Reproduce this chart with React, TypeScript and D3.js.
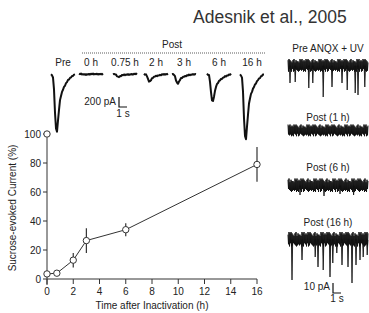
import React from "react";
import * as d3 from "d3";

// ---- Time course data ----
const hours = [0, 0.75, 2, 3, 6, 16];
const currentPct = [3.5, 4, 13, 26.5, 34, 79];
const currentErr = [0, 0, 5, 8.5, 4.5, 12];
const preHour = 0;
const prePct = 100;
const xTicks = [0, 2, 4, 6, 8, 10, 12, 14, 16];
const yTicks = [0, 20, 40, 60, 80, 100];

// ---- Example sucrose-evoked traces ----
const evokedLabels = ["Pre", "0 h", "0.75 h", "2 h", "3 h", "6 h", "16 h"];
const evokedAmpPA = [1220, 10, 60, 160, 200, 580, 1380];
// normalized waveform (time s, fraction of peak)
const kernelT = [0, 0.25, 0.4, 0.55, 0.7, 0.8, 0.95, 1.1, 1.3, 1.6, 1.9, 2.2, 2.6, 3.0];
const kernelV = [0, 0.05, 0.3, 0.8, 1.0, 0.88, 0.65, 0.45, 0.32, 0.22, 0.15, 0.09, 0.04, 0];
const lineJitter = [0.4, -0.3, 0.6, -0.5, 0.2, -0.6, 0.5, -0.2, 0.3, -0.4, 0.6, -0.1];

// ---- Miniature EPSC traces ----
const mLabels = ["Pre ANQX + UV", "Post (1 h)", "Post (6 h)", "Post (16 h)"];
const mNoisePA = [7, 6.5, 7.5, 8];
const mSpikeTimes = [
  [0.25, 0.9, 2.6, 3.1, 4.4, 5.5, 6.75, 7.4, 8.4, 8.75, 9.6],
  [],
  [1.5, 4.5, 6.5, 8.2],
  [0.5, 1.75, 3.4, 3.75, 4.4, 5.25, 5.6, 6.1, 6.75, 7.5, 8.0, 8.5, 9.0, 9.4, 9.9],
];
const mSpikeAmps = [
  [17, 16, 22, 17, 31, 21, 17, 24, 27, 29, 21],
  [],
  [9, 10, 8, 9],
  [40, 20, 17, 27, 30, 37, 23, 13, 25, 27, 43, 25, 20, 17, 15],
];
const bandUp = [5, 4, 6, 3, 5, 6, 4, 5, 3, 6, 5, 4, 6, 5, 3, 4, 5, 6, 4];
const bandLow = [4, 6, 5, 3, 6, 4, 5, 6, 4, 3, 5, 6, 4, 5, 6, 3, 5];

const FONT = "'Liberation Sans', Arial, Helvetica, sans-serif";
const TXT = "#222";

export default function App() {
  // main plot scales
  const x = d3.scaleLinear().domain([0, 16]).range([47, 257]);
  const y = d3.scaleLinear().domain([0, 100]).range([279, 134]);
  const line = d3
    .line<number>()
    .x((_, i) => x(hours[i]))
    .y((d) => y(d));

  // evoked traces
  const labelCenters = [63, 91, 125, 156, 184, 219, 252];
  const evBase = 74;
  const evTime = d3.scaleLinear().domain([0, 3]).range([0, 24]);
  const pA = d3.scaleLinear().domain([0, 200]).range([0, 10]);
  const kernel = d3.scaleLinear().domain(kernelT).range(kernelV).clamp(true);
  const evPaths = evokedAmpPA.map((amp, k) => {
    const x0 = labelCenters[k] - 12;
    const pts: [number, number][] = d3.range(0, 3.0001, 0.125).map((t, i) => [
      x0 + evTime(t),
      evBase + pA(amp) * kernel(t) + lineJitter[(i + k * 3) % lineJitter.length] * 0.8,
    ]);
    return d3.line()(pts) as string;
  });

  // mEPSC traces
  const mx = d3.scaleLinear().domain([0, 10]).range([288, 368]);
  const mpA = d3.scaleLinear().domain([0, 10]).range([0, 10]);
  const mCenters = [66, 131, 186, 240];
  const mLabelY = [52, 121, 171, 226];
  const bandPaths = mNoisePA.map((n, k) => {
    const c = mCenters[k];
    const pts: [number, number][] = d3.range(0, 10.0001, 0.0625).map((t, i) => {
      const up = (bandUp[(i + k * 5) % bandUp.length] / 6) * mpA(n);
      const lo = (bandLow[(i + k * 7) % bandLow.length] / 6) * mpA(n) * 0.8;
      return [mx(t), i % 2 === 0 ? c - up : c + lo];
    });
    return d3.line()(pts) as string;
  });

  return (
    <svg width={369} height={313} style={{ display: "block", position: "absolute", left: 0, top: 0 }} fontFamily={FONT}>
      <rect width={369} height={313} fill="#fff" />
      {/* title */}
      <text x={193} y={23} fontSize={17.5} fill="#333">Adesnik et al., 2005</text>

      {/* Post header */}
      <text x={172} y={48} fontSize={10} fill={TXT} textAnchor="middle">Post</text>
      <line x1={82} x2={265} y1={53} y2={53} stroke="#333" strokeWidth={0.8} strokeDasharray="1,1" />
      {evokedLabels.map((l, i) => (
        <text key={l} x={labelCenters[i]} y={66} fontSize={10} fill={TXT} textAnchor="middle">{l}</text>
      ))}
      {evPaths.map((p, i) => (
        <path key={i} d={p} fill="none" stroke="#111" strokeWidth={2} strokeLinejoin="round" />
      ))}
      {/* evoked scale bar */}
      <path d={`M${119},${97}V${97 + pA(200)}H${119 + evTime(1)}`} fill="none" stroke="#111" strokeWidth={1.2} />
      <text x={116} y={105} fontSize={10} fill={TXT} textAnchor="end">200 pA</text>
      <text x={123} y={117} fontSize={10} fill={TXT} textAnchor="middle">1 s</text>

      {/* main plot axes */}
      <line x1={47} x2={47} y1={y(100) + 3.2} y2={285} stroke="#333" strokeWidth={1} />
      <line x1={47} x2={257} y1={279} y2={279} stroke="#333" strokeWidth={1} />
      {yTicks.map((t) => (
        <g key={t}>
          <line x1={43} x2={47} y1={y(t)} y2={y(t)} stroke="#333" strokeWidth={1} />
          <text x={41} y={y(t) + 3.5} fontSize={10} fill={TXT} textAnchor="end">{t}</text>
        </g>
      ))}
      {xTicks.map((t) => (
        <g key={t}>
          <line x1={x(t)} x2={x(t)} y1={279} y2={284} stroke="#333" strokeWidth={1} />
          <text x={x(t)} y={295} fontSize={10} fill={TXT} textAnchor="middle">{t}</text>
        </g>
      ))}
      <text x={152} y={309} fontSize={10} fill={TXT} textAnchor="middle">Time after Inactivation (h)</text>
      <text transform={`translate(16,208) rotate(-90)`} fontSize={10} fill={TXT} textAnchor="middle">Sucrose-evoked Current (%)</text>

      {/* error bars */}
      {hours.map((h, i) =>
        currentErr[i] > 0 ? (
          <line key={i} x1={x(h)} x2={x(h)} y1={y(currentPct[i] + currentErr[i])} y2={y(currentPct[i] - currentErr[i])} stroke="#333" strokeWidth={1.2} />
        ) : null
      )}
      <path d={line(currentPct) as string} fill="none" stroke="#333" strokeWidth={1} />
      {hours.map((h, i) => (
        <circle key={i} cx={x(h)} cy={y(currentPct[i])} r={3.2} fill="#fff" stroke="#333" strokeWidth={1} />
      ))}
      <circle cx={x(preHour)} cy={y(prePct)} r={3.2} fill="#fff" stroke="#333" strokeWidth={1} />

      {/* mEPSC traces */}
      {mLabels.map((l, k) => (
        <g key={l}>
          <text x={328} y={mLabelY[k]} fontSize={10} fill={TXT} textAnchor="middle">{l}</text>
          <path d={bandPaths[k]} fill="none" stroke="#111" strokeWidth={1} />
          {mSpikeTimes[k].map((t, j) => (
            <path
              key={j}
              d={`M${mx(t) - 0.6},${mCenters[k]}L${mx(t)},${mCenters[k] + mpA(mSpikeAmps[k][j])}L${mx(t) + 0.7},${mCenters[k]}Z`}
              fill="#111"
              stroke="#111"
              strokeWidth={0.8}
            />
          ))}
        </g>
      ))}
      {/* mEPSC scale bar */}
      <path d={`M${333},${283}V${283 + mpA(10)}H${333 + (mx(1) - mx(0))}`} fill="none" stroke="#111" strokeWidth={1.2} />
      <text x={330} y={290} fontSize={10} fill={TXT} textAnchor="end">10 pA</text>
      <text x={337} y={302} fontSize={10} fill={TXT} textAnchor="middle">1 s</text>
    </svg>
  );
}
